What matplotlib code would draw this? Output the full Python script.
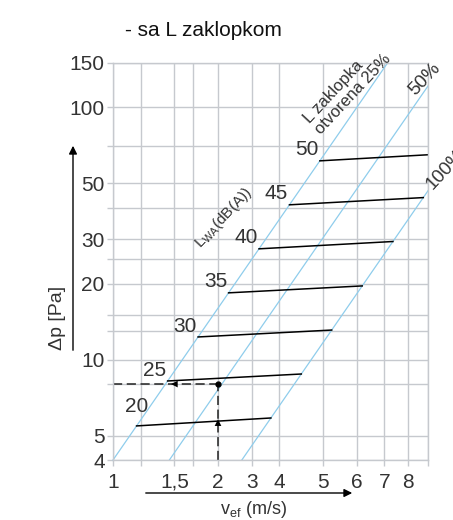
import matplotlib
matplotlib.use("Agg")
import matplotlib.pyplot as plt
import numpy as np

plt.rcParams["font.family"] = ["Liberation Sans Narrow", "Liberation Sans", "DejaVu Sans"]

# blue damper lines: dp = k * v^2
damper_labels = ["25%", "50%", "100%"]
damper_k = [4.0, 1.9, 0.73]

# sound power isolines: dp where they leave the 25% line and where they end
lwa_levels = [20, 25, 30, 35, 40, 45, 50]
lwa_dp_left = [5.46, 8.23, 12.3, 18.4, 27.5, 41.1, 61.4]
lwa_dp_right = [5.87, 8.77, 13.1, 19.6, 29.4, 43.9, 64.9]

# grid and tick labels (as printed in the original)
x_grid = [1, 1.2, 1.5, 1.7, 2, 2.5, 3, 4, 5, 6, 7, 8]
x_tick_pos = [1, 1.5, 2, 2.5, 3, 4, 5, 6, 7]
x_tick_lab = ["1", "1,5", "2", "3", "4", "5", "6", "7", "8"]
y_grid = [4, 5, 8, 10, 13, 15, 20, 25, 30, 40, 50, 70, 100, 150]
y_tick_lab = [4, 5, 10, 20, 30, 50, 100, 150]

# worked example
ex_v, ex_dp = 2.0, 8.0

v_min, v_max = 1, 8
dp_min, dp_max = 4, 150

grid_col = "#c6c9ce"
blue = "#8fcdec"
txt = "#333333"

fig = plt.figure(figsize=(4.53, 5.2), dpi=100)
ax = fig.add_axes([113 / 453, 60 / 520, 315 / 453, 397 / 520])
ax.set_xscale("log")
ax.set_yscale("log")
ax.set_xlim(v_min, v_max)
ax.set_ylim(dp_min, dp_max)

ax.set_xticks(x_grid)
ax.set_xticklabels([x_tick_lab[x_tick_pos.index(x)] if x in x_tick_pos else "" for x in x_grid])
ax.set_yticks(y_grid)
ax.set_yticklabels([str(y) if y in y_tick_lab else "" for y in y_grid])
ax.xaxis.set_minor_locator(matplotlib.ticker.NullLocator())
ax.yaxis.set_minor_locator(matplotlib.ticker.NullLocator())
ax.tick_params(colors=grid_col, labelcolor=txt, labelsize=15, length=4, width=1)
ax.tick_params(axis="x", pad=5)
ax.tick_params(axis="y", pad=2)
ax.grid(True, color=grid_col, lw=1)
for s in ax.spines.values():
    s.set_color(grid_col)
    s.set_linewidth(1)

# damper lines
for lab, k in zip(damper_labels, damper_k):
    v0 = max(v_min, np.sqrt(dp_min / k))
    v1 = min(v_max, np.sqrt(dp_max / k))
    ax.plot([v0, v1], [k * v0 ** 2, k * v1 ** 2], color=blue, lw=0.9, clip_on=False)

# isolines
k_left, k_right = damper_k[0], damper_k[-1]
for lvl, dl, dr in zip(lwa_levels, lwa_dp_left, lwa_dp_right):
    vl = np.sqrt(dl / k_left)
    vr = min(v_max, np.sqrt(dr / k_right))
    ax.plot([vl, vr], [dl, dr], color="black", lw=1.1, clip_on=False)
    if lvl == 20:
        ax.annotate(str(lvl), (vl, dl), xytext=(0, 7), textcoords="offset points",
                    ha="center", va="bottom", fontsize=15, color=txt)
    else:
        ax.annotate(str(lvl), (vl, dl), xytext=(-1, 1), textcoords="offset points",
                    ha="right", va="bottom", fontsize=15, color=txt)

# worked example (dashed)
ax.plot([v_min, ex_v], [ex_dp, ex_dp], color="#222222", lw=1.1, ls=(0, (6, 3)))
ax.plot([ex_v, ex_v], [dp_min, ex_dp], color="#222222", lw=1.1, ls=(0, (6, 3)))
ax.plot([ex_v], [ex_dp], "o", color="black", ms=3.5)
ax.annotate("", xy=(1.44, ex_dp), xytext=(1.55, ex_dp),
            arrowprops=dict(arrowstyle="-|>", color="black", lw=0, mutation_scale=12))
ax.annotate("", xy=(ex_v, 5.95), xytext=(ex_v, 5.0),
            arrowprops=dict(arrowstyle="-|>", color="black", lw=0, mutation_scale=12))

# rotated labels
ang = 47
ax.text(3.95, 78, "L zaklopka\notvorena 25%", rotation=ang, rotation_mode="anchor",
        ha="left", va="baseline", fontsize=12, color=txt, linespacing=1.0)
ax.text(7.33, 111, "50%", rotation=ang, rotation_mode="anchor", ha="left",
        va="baseline", fontsize=13.5, color=txt)
ax.text(8.25, 47.2, "100%", rotation=ang, rotation_mode="anchor", ha="left",
        va="baseline", fontsize=13.5, color=txt, clip_on=False)
ax.text(1.78, 27.5, r"L$_{\mathregular{WA}}$(dB(A))", rotation=ang, rotation_mode="anchor",
        ha="left", va="baseline", fontsize=11, color=txt)

# title and axis labels
fig.text(125 / 453, 1 - 31 / 520, "- sa L zaklopkom", fontsize=15, color="#111111",
         ha="left", va="center")
fig.text(57 / 453, 1 - 318 / 520, "Δp [Pa]", rotation=90, fontsize=14, color=txt,
         ha="center", va="center")
fig.text(254 / 453, 1 - 509 / 520, r"v$_{\mathregular{ef}}$ (m/s)", fontsize=13, color=txt,
         ha="center", va="center")

# axis arrows
fig.patches.append(matplotlib.patches.FancyArrowPatch(
    (73 / 453, 1 - 353 / 520), (73 / 453, 1 - 143 / 520), transform=fig.transFigure,
    arrowstyle="-|>", mutation_scale=12, color="black", lw=1))
fig.patches.append(matplotlib.patches.FancyArrowPatch(
    (143 / 453, 1 - 493 / 520), (355 / 453, 1 - 493 / 520), transform=fig.transFigure,
    arrowstyle="-|>", mutation_scale=12, color="black", lw=1))

fig.savefig("out.png", dpi=100)
